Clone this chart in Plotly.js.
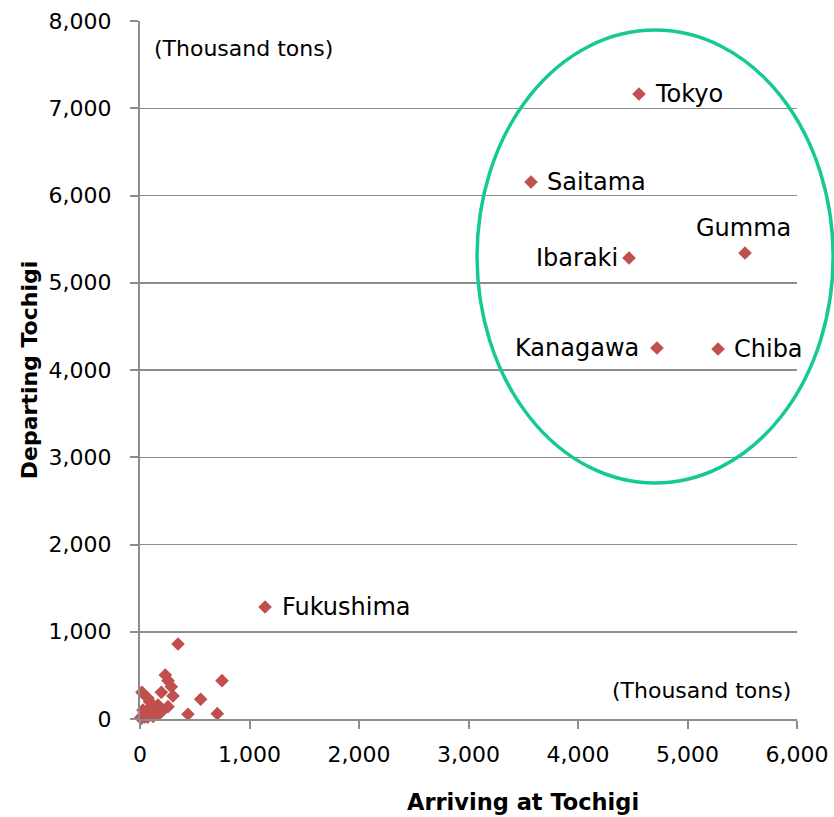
<!DOCTYPE html>
<html>
<head>
<meta charset="utf-8">
<script src="https://cdn.plot.ly/plotly-3.0.1.min.js"></script>
<style>
  html, body { margin: 0; padding: 0; background: #ffffff; }
  #chart { width: 834px; height: 817px; }
</style>
</head>
<body>
<div id="chart"></div>
<script>
// Named prefectures (Thousand tons)
const namedPrefs = ["Tokyo", "Saitama", "Gumma", "Ibaraki", "Kanagawa", "Chiba", "Fukushima"];
const namedArriving = [4557, 3571, 5525, 4466, 4721, 5279, 1142];
const namedDeparting = [7163, 6155, 5341, 5284, 4252, 4241, 1284];

// Other prefectures (unlabelled)
const otherArriving = [347, 231, 256, 286, 301, 195, 18, 749, 554, 438, 706, 73, 27, 12, 58, 103, 164, 210, 256, 180, 134, 43, 88, 5, 30, 70, 120];
const otherDeparting = [860, 504, 439, 370, 264, 306, 306, 439, 226, 54, 61, 237, 103, 8, 46, 141, 160, 103, 141, 65, 84, 23, 198, 15, 40, 20, 30];

const xTickVals = [0, 1000, 2000, 3000, 4000, 5000, 6000];
const yTickVals = [0, 1000, 2000, 3000, 4000, 5000, 6000, 7000, 8000];

const unitLabel = "(Thousand tons)";
const xTitle = "Arriving at Tochigi";
const yTitle = "Departing Tochigi";

// label placement (styles, kept apart from data)
const labelPlacement = {
  Tokyo:     {xanchor: "left",   yanchor: "middle", xshift: 14,  yshift: 0},
  Saitama:   {xanchor: "left",   yanchor: "middle", xshift: 14,  yshift: 0},
  Gumma:     {xanchor: "center", yanchor: "bottom", xshift: -1,  yshift: 9},
  Ibaraki:   {xanchor: "right",  yanchor: "middle", xshift: -9,  yshift: 0},
  Kanagawa:  {xanchor: "right",  yanchor: "middle", xshift: -16, yshift: 0},
  Chiba:     {xanchor: "left",   yanchor: "middle", xshift: 14,  yshift: 0},
  Fukushima: {xanchor: "left",   yanchor: "middle", xshift: 15,  yshift: 0}
};

const FONT = "DejaVu Sans, Arial, sans-serif";
const markerStyle = {symbol: "diamond", size: 10.5, color: "#C0504D", line: {width: 0}};

const traces = [
  {
    type: "scatter", mode: "markers",
    x: otherArriving, y: otherDeparting,
    marker: markerStyle, cliponaxis: false, hoverinfo: "x+y", showlegend: false
  },
  {
    type: "scatter", mode: "markers",
    x: namedArriving, y: namedDeparting, text: namedPrefs,
    marker: markerStyle, cliponaxis: false, hoverinfo: "text+x+y", showlegend: false
  }
];

const annotations = namedPrefs.map((name, i) => Object.assign({
  x: namedArriving[i], y: namedDeparting[i], xref: "x", yref: "y",
  text: name, showarrow: false,
  font: {family: FONT, size: 24, color: "#000000"}
}, labelPlacement[name]));

annotations.push(
  {xref: "paper", yref: "paper", x: 0.019, y: 0.96, xanchor: "left", yanchor: "middle",
   text: unitLabel, showarrow: false, font: {family: FONT, size: 22, color: "#000000"}},
  {xref: "paper", yref: "paper", x: 0.9935, y: 0.0415, xanchor: "right", yanchor: "middle",
   text: unitLabel, showarrow: false, font: {family: FONT, size: 22, color: "#000000"}},
  {xref: "paper", yref: "paper", x: 0.583, y: -0.119, xanchor: "center", yanchor: "middle",
   text: "<b>" + xTitle + "</b>", showarrow: false, font: {family: FONT, size: 22.5, color: "#000000"}}
);

const layout = {
  width: 834, height: 817,
  margin: {l: 140, r: 37, t: 21, b: 98, pad: 0},
  paper_bgcolor: "#ffffff", plot_bgcolor: "#ffffff",
  font: {family: FONT, size: 22, color: "#000000"},
  showlegend: false,
  xaxis: {
    range: [0, 6000], tickvals: xTickVals, tickformat: ",d",
    showgrid: false, zeroline: false,
    showline: true, linecolor: "#8c8c8c", linewidth: 2,
    ticks: "outside", ticklen: 8, tickwidth: 2, tickcolor: "#8c8c8c",
    ticklabelstandoff: 7,
    tickfont: {family: FONT, size: 22, color: "#000000"},
    fixedrange: true
  },
  yaxis: {
    range: [0, 8000], tickvals: yTickVals, tickformat: ",d",
    showgrid: true, gridcolor: "#8c8c8c", gridwidth: 1.5,
    zeroline: false,
    showline: true, linecolor: "#8c8c8c", linewidth: 2,
    ticks: "outside", ticklen: 8, tickwidth: 2, tickcolor: "#8c8c8c",
    ticklabelstandoff: 14,
    tickfont: {family: FONT, size: 22, color: "#000000"},
    title: {text: "<b>" + yTitle + "</b>", font: {family: FONT, size: 22, color: "#000000"}, standoff: 5},
    fixedrange: true
  },
  shapes: [
    {type: "circle", xref: "paper", yref: "paper",
     x0: 0.513, x1: 1.055, y0: 0.338, y1: 0.987,
     line: {color: "#14C995", width: 3.5}, fillcolor: "rgba(0,0,0,0)", layer: "above"}
  ],
  annotations: annotations
};

Plotly.newPlot("chart", traces, layout, {displayModeBar: false, staticPlot: true});
</script>
</body>
</html>
